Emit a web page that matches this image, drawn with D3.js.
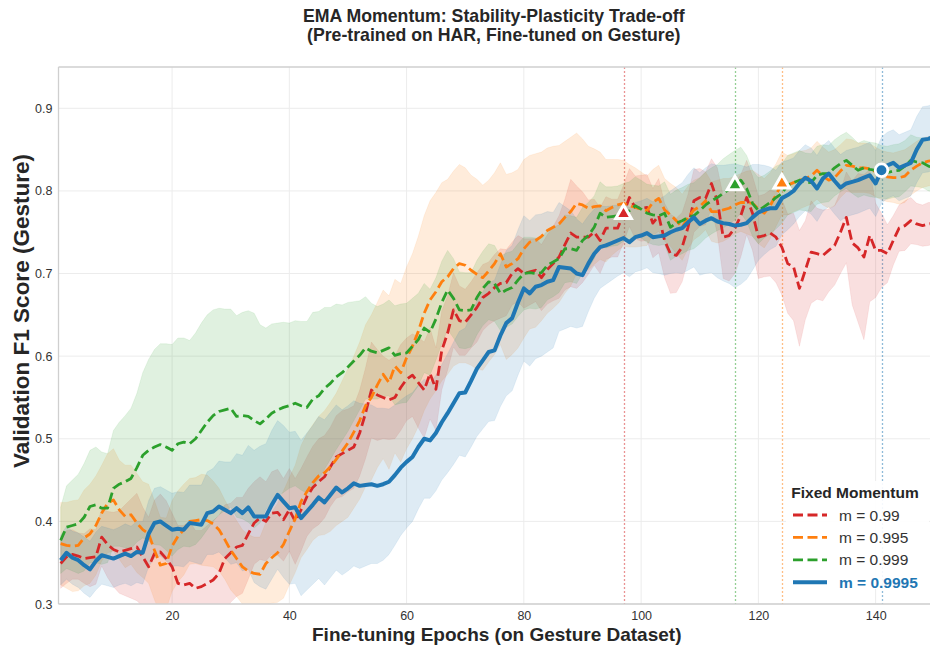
<!DOCTYPE html>
<html>
<head>
<meta charset="utf-8">
<script src="https://cdn.jsdelivr.net/npm/d3@7/dist/d3.min.js"></script>
<style>
  body { margin: 0; background: #fff; }
  svg { display: block; }
</style>
</head>
<body>
<div class="container"></div>
<script>
// ---- data ----
const epochs = d3.range(1, 151);

const m099 = [
  0.349,0.357,0.360,0.358,0.355,0.356,0.357,0.381,0.372,0.366,
  0.363,0.365,0.367,0.369,0.357,0.345,0.361,0.363,0.355,0.345,
  0.325,0.323,0.325,0.319,0.321,0.325,0.329,0.337,0.355,0.362,
  0.369,0.371,0.385,0.398,0.404,0.400,0.410,0.411,0.402,0.414,
  0.400,0.414,0.430,0.441,0.448,0.454,0.466,0.478,0.482,0.486,
  0.490,0.507,0.531,0.559,0.553,0.550,0.547,0.550,0.562,0.572,
  0.577,0.568,0.559,0.579,0.560,0.607,0.628,0.656,0.643,0.641,
  0.650,0.659,0.671,0.676,0.683,0.688,0.689,0.700,0.706,0.700,
  0.702,0.704,0.695,0.705,0.712,0.720,0.735,0.749,0.744,0.744,
  0.744,0.750,0.740,0.755,0.755,0.755,0.772,0.792,0.780,0.779,
  0.780,0.761,0.770,0.740,0.724,0.722,0.732,0.756,0.788,0.792,
  0.791,0.809,0.788,0.744,0.746,0.755,0.770,0.792,0.773,0.744,
  0.746,0.749,0.744,0.732,0.712,0.708,0.682,0.704,0.726,0.724,
  0.722,0.728,0.734,0.750,0.768,0.737,0.731,0.720,0.746,0.728,
  0.728,0.724,0.740,0.755,0.758,0.764,0.760,0.758,0.760,0.761
];
const m0995 = [
  0.373,0.371,0.370,0.371,0.380,0.385,0.395,0.410,0.422,0.426,
  0.414,0.406,0.408,0.398,0.390,0.385,0.365,0.347,0.349,0.370,
  0.382,0.390,0.400,0.401,0.402,0.401,0.397,0.390,0.378,0.365,
  0.355,0.345,0.340,0.337,0.336,0.349,0.356,0.362,0.372,0.388,
  0.403,0.424,0.436,0.447,0.455,0.459,0.466,0.475,0.485,0.495,
  0.508,0.522,0.540,0.550,0.565,0.578,0.568,0.588,0.580,0.598,
  0.612,0.630,0.652,0.668,0.678,0.690,0.696,0.706,0.712,0.710,
  0.704,0.699,0.695,0.703,0.712,0.724,0.708,0.712,0.718,0.730,
  0.738,0.740,0.745,0.752,0.756,0.760,0.768,0.775,0.785,0.783,
  0.779,0.781,0.782,0.776,0.780,0.783,0.785,0.782,0.780,0.778,
  0.776,0.786,0.791,0.777,0.771,0.764,0.756,0.768,0.777,0.781,
  0.788,0.775,0.775,0.777,0.779,0.783,0.786,0.786,0.785,0.778,
  0.773,0.782,0.795,0.809,0.807,0.810,0.813,0.815,0.818,0.825,
  0.818,0.813,0.816,0.824,0.831,0.830,0.828,0.828,0.827,0.823,
  0.819,0.817,0.816,0.816,0.818,0.825,0.830,0.834,0.836,0.837
];
const m0999 = [
  0.377,0.393,0.395,0.397,0.405,0.418,0.420,0.416,0.416,0.440,
  0.445,0.448,0.452,0.465,0.480,0.486,0.490,0.493,0.490,0.486,
  0.494,0.496,0.494,0.500,0.510,0.520,0.528,0.533,0.535,0.537,
  0.527,0.528,0.527,0.522,0.518,0.524,0.531,0.535,0.538,0.540,
  0.543,0.540,0.538,0.548,0.552,0.561,0.567,0.575,0.580,0.587,
  0.594,0.601,0.610,0.606,0.604,0.607,0.610,0.601,0.603,0.604,
  0.612,0.620,0.634,0.629,0.645,0.665,0.680,0.670,0.656,0.655,
  0.656,0.671,0.682,0.690,0.688,0.676,0.680,0.683,0.692,0.700,
  0.701,0.700,0.701,0.710,0.714,0.718,0.730,0.730,0.728,0.740,
  0.746,0.756,0.773,0.768,0.769,0.770,0.774,0.776,0.782,0.778,
  0.773,0.771,0.770,0.773,0.756,0.761,0.764,0.768,0.770,0.776,
  0.783,0.788,0.792,0.797,0.802,0.807,0.813,0.803,0.785,0.776,
  0.781,0.786,0.792,0.797,0.807,0.810,0.813,0.811,0.810,0.819,
  0.821,0.821,0.828,0.833,0.837,0.831,0.825,0.828,0.826,0.825,
  0.823,0.822,0.824,0.825,0.830,0.837,0.835,0.834,0.830,0.828
];
const m09995 = [
  0.353,0.362,0.356,0.353,0.347,0.342,0.352,0.359,0.357,0.355,
  0.358,0.361,0.358,0.363,0.362,0.385,0.398,0.400,0.395,0.390,
  0.391,0.390,0.398,0.397,0.396,0.410,0.412,0.418,0.414,0.410,
  0.416,0.410,0.417,0.406,0.406,0.406,0.420,0.432,0.424,0.416,
  0.417,0.404,0.412,0.420,0.429,0.423,0.432,0.441,0.435,0.440,
  0.446,0.443,0.444,0.445,0.443,0.445,0.448,0.456,0.465,0.472,
  0.478,0.490,0.500,0.498,0.507,0.520,0.531,0.543,0.555,0.556,
  0.570,0.585,0.595,0.605,0.607,0.625,0.640,0.646,0.665,0.682,
  0.676,0.684,0.686,0.690,0.692,0.708,0.707,0.706,0.700,0.698,
  0.712,0.724,0.732,0.734,0.737,0.740,0.743,0.738,0.744,0.746,
  0.749,0.744,0.745,0.746,0.750,0.753,0.755,0.762,0.768,0.760,
  0.764,0.767,0.763,0.761,0.760,0.758,0.759,0.761,0.768,0.774,
  0.777,0.779,0.779,0.791,0.795,0.800,0.809,0.816,0.812,0.803,
  0.815,0.821,0.812,0.804,0.809,0.811,0.813,0.816,0.819,0.809,
  0.825,0.831,0.834,0.828,0.831,0.834,0.850,0.862,0.863,0.866
];

// spread across runs (std), same order as the means
const std099 = [
  .030,.032,.030,.028,.030,.035,.033,.035,.040,.045,
  .050,.055,.060,.065,.060,.060,.065,.070,.070,.065,
  .070,.072,.075,.070,.068,.070,.072,.070,.065,.060,
  .060,.058,.055,.050,.050,.048,.050,.052,.050,.050,
  .052,.050,.048,.050,.052,.050,.048,.050,.052,.050,
  .050,.052,.055,.058,.055,.050,.048,.050,.052,.050,
  .050,.055,.058,.055,.050,.048,.045,.045,.042,.040,
  .040,.042,.040,.038,.040,.042,.040,.038,.040,.042,
  .040,.038,.040,.042,.045,.050,.055,.065,.062,.055,
  .045,.040,.040,.038,.035,.035,.035,.035,.038,.040,
  .040,.042,.045,.045,.048,.045,.042,.040,.038,.035,
  .032,.030,.040,.050,.055,.055,.050,.045,.045,.050,
  .050,.052,.055,.058,.060,.065,.070,.060,.062,.055,
  .055,.050,.048,.050,.055,.075,.090,.100,.080,.057,
  .045,.035,.030,.028,.030,.028,.025,.025,.026,.025
];
const std0995 = [
  .050,.052,.055,.055,.058,.060,.060,.058,.060,.062,
  .060,.062,.060,.060,.058,.060,.060,.058,.055,.055,
  .055,.055,.052,.052,.055,.055,.052,.050,.048,.048,
  .046,.045,.044,.044,.045,.050,.055,.060,.065,.065,
  .065,.068,.070,.070,.072,.075,.078,.080,.085,.090,
  .092,.095,.098,.100,.100,.102,.105,.105,.108,.110,
  .112,.115,.118,.120,.120,.120,.118,.118,.120,.118,
  .115,.115,.112,.110,.110,.110,.112,.110,.108,.108,
  .105,.105,.102,.100,.098,.095,.092,.090,.085,.080,
  .075,.070,.065,.062,.058,.055,.052,.050,.048,.045,
  .042,.040,.040,.038,.038,.040,.040,.038,.036,.035,
  .035,.036,.038,.038,.036,.035,.035,.038,.040,.042,
  .042,.040,.038,.038,.036,.035,.035,.034,.034,.035,
  .035,.034,.034,.032,.032,.032,.030,.030,.030,.030,
  .030,.030,.030,.032,.032,.030,.030,.030,.030,.030
];
const std0999 = [
  .040,.050,.055,.060,.065,.068,.070,.068,.066,.070,
  .075,.080,.085,.090,.100,.110,.118,.122,.125,.128,
  .128,.126,.125,.128,.130,.130,.128,.125,.122,.120,
  .122,.125,.128,.130,.120,.110,.108,.105,.103,.100,
  .100,.102,.104,.105,.102,.098,.092,.088,.082,.078,
  .072,.066,.062,.058,.056,.056,.058,.060,.060,.060,
  .058,.056,.054,.052,.050,.050,.048,.048,.046,.046,
  .045,.045,.045,.046,.046,.045,.045,.044,.044,.044,
  .043,.043,.042,.042,.042,.041,.041,.040,.040,.040,
  .040,.038,.038,.037,.036,.036,.035,.035,.035,.035,
  .035,.036,.036,.038,.040,.040,.040,.040,.040,.040,
  .040,.040,.040,.042,.042,.042,.040,.040,.040,.040,
  .038,.038,.038,.036,.036,.036,.036,.035,.035,.035,
  .035,.034,.034,.034,.034,.034,.033,.033,.033,.033,
  .032,.032,.032,.032,.031,.031,.030,.030,.030,.030
];
const std09995 = [
  .030,.032,.032,.033,.034,.034,.035,.035,.035,.035,
  .035,.036,.036,.037,.038,.040,.042,.042,.043,.044,
  .045,.045,.046,.047,.048,.050,.052,.055,.058,.062,
  .066,.070,.075,.080,.085,.088,.090,.090,.092,.092,
  .092,.094,.095,.096,.098,.100,.100,.100,.100,.100,
  .100,.100,.098,.096,.094,.092,.088,.085,.082,.080,
  .078,.075,.072,.070,.070,.070,.072,.074,.075,.078,
  .080,.082,.083,.084,.085,.086,.088,.088,.088,.088,
  .088,.087,.086,.085,.082,.078,.074,.070,.066,.062,
  .058,.054,.050,.047,.045,.043,.042,.042,.042,.042,
  .042,.043,.045,.048,.050,.052,.055,.058,.060,.062,
  .064,.066,.068,.070,.072,.075,.072,.068,.064,.058,
  .054,.050,.046,.044,.042,.040,.040,.040,.040,.040,
  .040,.040,.040,.040,.040,.040,.040,.040,.040,.040,
  .040,.040,.040,.040,.040,.040,.040,.040,.040,.040
];

const momentumLabels = ["m = 0.99", "m = 0.995", "m = 0.999", "m = 0.9995"];
const bestEpochs = [97, 124, 116, 141];
const xTicks = [20, 40, 60, 80, 100, 120, 140];
const yTicks = [0.3, 0.4, 0.5, 0.6, 0.7, 0.8, 0.9];

// ---- layout / style ----
const width = 930, height = 647;
const plot = { left: 58.5, right: 929, top: 67, bottom: 604 };
const colors = ["#d62728", "#ff7f0e", "#2ca02c", "#1f77b4"];
const FONT = "'Liberation Sans', Arial, sans-serif";
const stds = [std099, std0995, std0999, std09995];

const series = [m099, m0995, m0999, m09995].map((vals, i) => ({
  label: momentumLabels[i],
  color: colors[i],
  best: bestEpochs[i],
  values: vals.map((v, j) => ({ e: epochs[j], v, s: stds[i][j] }))
}));

const x = d3.scaleLinear().domain([0.63, 149.1]).range([plot.left, plot.right]);
const y = d3.scaleLinear().domain([0.3, 0.95]).range([plot.bottom, plot.top]);

const svg = d3.select(".container")
  .append("svg")
  .attr("width", width)
  .attr("height", height)
  .attr("font-family", FONT);

svg.append("defs").append("clipPath").attr("id", "clip")
  .append("rect")
  .attr("x", plot.left).attr("y", plot.top)
  .attr("width", width - plot.left).attr("height", plot.bottom - plot.top);

// grid
const grid = svg.append("g");
grid.selectAll("line.gy").data(yTicks).join("line")
  .attr("x1", plot.left).attr("x2", width)
  .attr("y1", d => y(d)).attr("y2", d => y(d))
  .attr("stroke", "#ececec").attr("stroke-width", 1);
grid.selectAll("line.gx").data(xTicks).join("line")
  .attr("x1", d => x(d)).attr("x2", d => x(d))
  .attr("y1", plot.top).attr("y2", plot.bottom)
  .attr("stroke", "#ececec").attr("stroke-width", 1);

const body = svg.append("g").attr("clip-path", "url(#clip)");

// best-epoch markers (vertical dotted lines)
body.selectAll("line.best").data(series).join("line")
  .attr("x1", d => Math.round(x(d.best)) + 0.5).attr("x2", d => Math.round(x(d.best)) + 0.5)
  .attr("y1", plot.top).attr("y2", plot.bottom)
  .attr("stroke", d => d.color).attr("stroke-opacity", 0.5)
  .attr("stroke-width", 1.3).attr("stroke-dasharray", "2,2");

// bands
const area = d3.area()
  .x(d => x(d.e))
  .y0(d => y(d.v - d.s))
  .y1(d => y(d.v + d.s));
body.selectAll("path.band").data(series).join("path")
  .attr("d", d => area(d.values))
  .attr("fill", d => d.color)
  .attr("fill-opacity", 0.15)
  .attr("stroke", d => d.color)
  .attr("stroke-opacity", 0.08);

// lines
const line = d3.line().x(d => x(d.e)).y(d => y(d.v));
body.selectAll("path.mean").data(series).join("path")
  .attr("d", d => line(d.values))
  .attr("fill", "none")
  .attr("stroke", d => d.color)
  .attr("stroke-width", (d, i) => i === 3 ? 4 : 2.8)
  .attr("stroke-dasharray", (d, i) => i === 3 ? null : "10,4.5")
  .attr("stroke-linejoin", "round");

// best markers
series.forEach((s, i) => {
  const pt = s.values[s.best - 1];
  const sym = i === 3 ? d3.symbol(d3.symbolCircle, 125) : d3.symbol(d3.symbolTriangle, 105);
  svg.append("path")
    .attr("d", sym())
    .attr("transform", `translate(${x(pt.e)},${y(pt.v)})`)
    .attr("fill", s.color)
    .attr("stroke", "#fff")
    .attr("stroke-width", i === 3 ? 2.8 : 3)
    .attr("stroke-linejoin", "miter");
});

// frame
svg.append("line").attr("x1", plot.left).attr("x2", plot.left).attr("y1", plot.top).attr("y2", plot.bottom)
  .attr("stroke", "#cfcfcf").attr("stroke-width", 1.3);
svg.append("line").attr("x1", plot.left).attr("x2", width).attr("y1", plot.bottom).attr("y2", plot.bottom)
  .attr("stroke", "#cfcfcf").attr("stroke-width", 1.3);
svg.append("line").attr("x1", plot.left).attr("x2", width).attr("y1", plot.top).attr("y2", plot.top)
  .attr("stroke", "#cfcfcf").attr("stroke-width", 1.3);

// axes
const xAxis = svg.append("g")
  .attr("transform", `translate(0,${plot.bottom})`)
  .call(d3.axisBottom(x).tickValues(xTicks).tickSize(0).tickPadding(7));
const yAxis = svg.append("g")
  .attr("transform", `translate(${plot.left},0)`)
  .call(d3.axisLeft(y).tickValues(yTicks).tickSize(0).tickPadding(6).tickFormat(d3.format(".1f")));
[xAxis, yAxis].forEach(a => {
  a.select(".domain").remove();
  a.selectAll("text").attr("font-size", 12.5).attr("fill", "#333").attr("font-family", FONT);
});

// titles
const cx = (plot.left + plot.right) / 2;
const title = svg.append("text")
  .attr("text-anchor", "middle")
  .attr("font-size", 17.7).attr("font-weight", "bold").attr("fill", "#262626");
title.append("tspan").attr("x", cx).attr("y", 22)
  .text("EMA Momentum: Stability-Plasticity Trade-off");
title.append("tspan").attr("x", cx).attr("y", 41)
  .text("(Pre-trained on HAR, Fine-tuned on Gesture)");

svg.append("text")
  .attr("x", cx + 3).attr("y", 641)
  .attr("text-anchor", "middle")
  .attr("font-size", 19).attr("font-weight", "bold").attr("fill", "#262626")
  .text("Fine-tuning Epochs (on Gesture Dataset)");

svg.append("text")
  .attr("transform", "translate(29,311) rotate(-90)")
  .attr("text-anchor", "middle")
  .attr("font-size", 22.5).attr("font-weight", "bold").attr("fill", "#262626")
  .text("Validation F1 Score (Gesture)");

// legend
const lg = svg.append("g").attr("transform", "translate(786,481)");
lg.append("rect").attr("width", 143).attr("height", 108)
  .attr("fill", "#fff").attr("fill-opacity", 0.9);
lg.append("text").attr("x", 69).attr("y", 17)
  .attr("text-anchor", "middle")
  .attr("font-size", 15.5).attr("font-weight", "bold").attr("fill", "#262626")
  .text("Fixed Momentum");
const item = lg.selectAll("g.item").data(series).join("g")
  .attr("transform", (d, i) => `translate(0,${34 + i * 22.4})`);
item.append("line")
  .attr("x1", 7).attr("x2", 41)
  .attr("stroke", d => d.color)
  .attr("stroke-width", (d, i) => i === 3 ? 4 : 2.8)
  .attr("stroke-dasharray", (d, i) => i === 3 ? null : "10,4.5");
item.append("text")
  .attr("x", 53).attr("y", 5.5)
  .attr("font-size", 15.5)
  .attr("font-weight", (d, i) => i === 3 ? "bold" : "normal")
  .attr("fill", (d, i) => i === 3 ? colors[3] : "#333")
  .text(d => d.label);
</script>
</body>
</html>
